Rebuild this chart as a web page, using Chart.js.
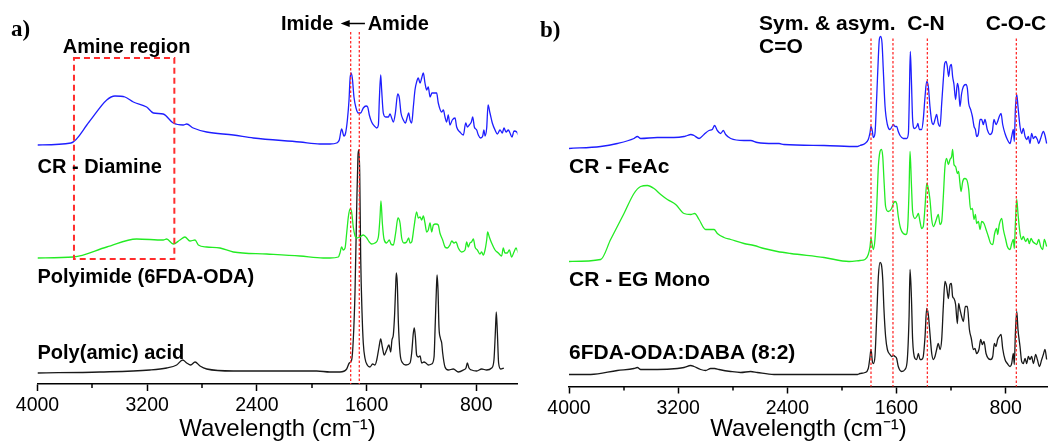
<!DOCTYPE html>
<html>
<head>
<meta charset="utf-8">
<script src="https://cdn.jsdelivr.net/npm/chart.js@4.4.1/dist/chart.umd.min.js"></script>
<style>
  body { margin: 0; background: #fff; }
  #wrap { display: flex; width: 1048px; height: 448px; }
  canvas { display: block; }
</style>
</head>
<body>
<div id="wrap">
  <canvas id="panelA" width="524" height="448"></canvas>
  <canvas id="panelB" width="524" height="448"></canvas>
</div>
<script>
// FTIR spectra, [wavenumber cm-1, absorbance (a.u., stacked offsets included)]
// panel a)
const crDiamine = [[4000,239],[3756,241],[3624,262],[3495,284],[3435,288],[3362,287],[3301,282],[3204,277],[3155,271],[3083,270],[3010,261],[2937,259],[2912,260],[2864,256],[2766,252],[2572,249],[2426,246],[2086,242],[1940,240],
  [1867,240],[1818,241],[1799,244],[1782,255],[1765,248],[1753,251],[1740,264],[1728,284],[1721,304],[1714,311],[1704,306],[1692,287],[1677,276],[1660,271],[1643,271],[1624,276],[1604,278],[1592,277],[1580,269],[1563,262],[1543,258],[1526,256],[1514,259],[1507,284],[1497,309],[1490,294],[1478,271],[1461,267],[1441,267],[1429,270],[1417,266],[1405,262],[1390,271],[1373,290],[1361,286],[1349,271],[1332,264],[1317,261],[1303,267],[1293,271],[1283,264],[1271,261],[1259,277],[1247,294],[1235,302],[1223,306],[1210,301],[1198,306],[1186,311],[1174,301],[1162,294],[1150,297],[1137,287],[1123,291],[1108,291],[1089,291],[1077,281],[1052,272],[1040,274],[1028,267],[1016,262],[1004,269],[992,259],[975,264],[955,266],[943,257],[919,252],[894,249],[877,261],[865,257],[851,259],[836,262],[826,267],[814,257],[797,254],[785,249],[768,246],[753,248],[744,254],[736,248],[724,256],[714,279],[700,271],[683,261],[663,254],[646,250],[627,254],[610,251],[598,256],[583,252],[566,254],[554,251],[539,247],[525,253],[505,252],[493,249]];

const polyimide = [[4000,126],[3739,127],[3495,137],[3277,145],[3083,144],[3058,145],[3010,140],[2961,144],[2925,147],[2888,143],[2851,144],[2827,139],[2766,137],[2669,136],[2572,132],[2328,130],[2086,128],[1916,126],
  [1867,126],[1806,127],[1794,131],[1782,137],[1770,134],[1757,136],[1745,151],[1733,167],[1721,175],[1709,172],[1697,157],[1684,148],[1672,146],[1648,147],[1624,149],[1599,146],[1580,142],[1563,140],[1539,141],[1514,147],[1502,167],[1495,183],[1485,161],[1473,145],[1454,141],[1434,144],[1422,140],[1405,139],[1388,151],[1371,166],[1356,161],[1344,146],[1327,141],[1308,142],[1293,146],[1283,141],[1271,142],[1254,157],[1235,172],[1223,166],[1210,167],[1198,164],[1186,168],[1174,161],[1162,152],[1150,154],[1137,161],[1125,152],[1113,159],[1094,160],[1077,159],[1065,151],[1045,144],[1028,137],[1011,136],[992,139],[979,143],[962,141],[948,142],[931,136],[907,132],[882,134],[870,142],[858,137],[846,141],[834,142],[821,145],[809,137],[792,134],[773,130],[761,132],[749,129],[736,134],[724,144],[717,152],[705,147],[688,141],[663,134],[639,131],[615,128],[603,136],[591,131],[574,131],[559,134],[542,127],[525,132],[510,136],[493,131]];

const polyAmicAcid = [[4000,11],[3544,12],[3180,14],[3058,16],[2985,19],[2941,24],[2912,21],[2883,19],[2851,22],[2815,18],[2766,15],[2572,13],[2328,13],[1964,13],
  [1867,12],[1794,12],[1745,15],[1726,21],[1709,24],[1697,44],[1684,94],[1672,177],[1663,227],[1658,234],[1650,211],[1643,127],[1633,71],[1624,41],[1612,26],[1595,19],[1575,17],[1556,20],[1539,19],[1526,24],[1509,37],[1497,45],[1485,37],[1471,29],[1454,34],[1437,39],[1424,32],[1415,44],[1405,49],[1395,71],[1388,97],[1383,111],[1376,101],[1368,61],[1356,31],[1337,21],[1313,19],[1283,21],[1271,31],[1259,51],[1252,56],[1244,47],[1235,29],[1223,27],[1210,28],[1198,21],[1181,22],[1167,21],[1150,19],[1125,20],[1108,27],[1099,61],[1091,94],[1086,109],[1079,94],[1072,57],[1062,46],[1052,41],[1045,31],[1028,17],[1004,14],[967,15],[931,12],[894,14],[875,16],[865,21],[853,16],[834,14],[797,13],[761,15],[724,14],[688,16],[671,24],[661,51],[654,72],[646,51],[637,21],[622,15],[598,16]];

// panel b)
const crFeAc = [[4000,238],[3768,240],[3646,243],[3524,248],[3499,250],[3475,248],[3353,249],[3231,249],[3157,250],[3133,251],[3108,252],[3084,251],[3047,248],[3011,252],[2974,256],[2950,257],[2933,261],[2913,256],[2889,253],[2869,256],[2852,252],[2815,248],[2718,246],[2669,246],[2620,244],[2498,243],[2461,243],[2425,242],[2131,241],[1887,240],
  [1868,241],[1831,243],[1807,247],[1794,254],[1787,260],[1777,255],[1770,249],[1758,253],[1745,290],[1733,330],[1726,347],[1716,350],[1706,343],[1697,317],[1684,280],[1667,262],[1648,257],[1633,260],[1623,262],[1611,260],[1599,260],[1587,255],[1574,251],[1550,248],[1526,248],[1513,253],[1506,290],[1499,335],[1491,307],[1482,267],[1469,258],[1452,260],[1443,263],[1433,257],[1416,257],[1404,267],[1391,290],[1379,305],[1367,300],[1355,280],[1342,265],[1330,262],[1318,267],[1306,272],[1294,263],[1281,260],[1269,283],[1257,307],[1247,323],[1237,325],[1228,320],[1218,310],[1208,320],[1198,322],[1189,310],[1179,302],[1167,287],[1154,303],[1145,298],[1135,280],[1123,293],[1110,300],[1091,302],[1081,298],[1071,283],[1057,277],[1044,270],[1032,260],[1022,257],[1013,250],[1000,253],[988,267],[976,267],[964,262],[952,267],[935,257],[915,252],[898,255],[886,267],[871,262],[859,265],[847,270],[834,273],[822,262],[805,253],[788,247],[768,243],[756,250],[744,257],[737,245],[729,277],[719,292],[710,280],[695,260],[683,253],[671,258],[658,250],[646,247],[634,250],[622,243],[610,253],[597,248],[583,250],[568,247],[558,243],[544,248],[524,255],[512,251],[500,243]];

const crEgMono = [[4000,125],[3768,127],[3695,147],[3597,173],[3524,193],[3475,200],[3426,201],[3377,198],[3328,192],[3279,187],[3218,182],[3157,173],[3108,172],[3079,173],[3047,167],[2999,157],[2937,157],[2913,153],[2864,149],[2815,147],[2718,143],[2644,141],[2571,138],[2473,135],[2376,133],[2131,129],[1948,125],
  [1868,126],[1831,127],[1807,132],[1794,140],[1787,148],[1777,141],[1770,137],[1758,147],[1745,180],[1733,220],[1721,235],[1711,237],[1701,230],[1692,207],[1680,180],[1660,175],[1636,178],[1623,183],[1611,185],[1599,183],[1587,170],[1570,158],[1550,153],[1531,152],[1518,160],[1508,197],[1501,235],[1491,203],[1482,175],[1465,168],[1452,170],[1440,173],[1428,165],[1416,158],[1404,160],[1391,180],[1379,203],[1367,198],[1355,187],[1342,167],[1330,160],[1318,163],[1306,168],[1294,172],[1281,162],[1269,165],[1257,190],[1245,220],[1233,228],[1220,222],[1208,227],[1196,230],[1189,237],[1179,222],[1167,220],[1154,213],[1145,215],[1135,203],[1127,195],[1115,205],[1101,208],[1086,207],[1071,197],[1057,177],[1044,178],[1032,167],[1022,172],[1013,163],[1000,165],[988,157],[976,165],[959,163],[944,157],[927,150],[910,143],[895,142],[881,153],[866,158],[859,152],[847,162],[829,168],[817,157],[800,147],[788,140],[768,137],[756,143],[744,147],[737,138],[729,163],[719,187],[710,173],[695,153],[683,147],[671,150],[654,145],[639,148],[627,143],[614,148],[602,145],[585,143],[573,142],[558,147],[544,140],[529,137],[517,147],[500,140]];

const daba82 = [[4000,12],[3841,12],[3646,16],[3524,18],[3499,19],[3475,17],[3353,17],[3206,18],[3157,19],[3108,21],[3084,20],[3035,17],[2999,16],[2962,18],[2933,18],[2901,17],[2815,15],[2742,14],[2669,15],[2620,14],[2498,12],[2131,12],[1887,12],
  [1868,13],[1831,14],[1807,18],[1794,30],[1787,37],[1777,25],[1770,23],[1758,30],[1745,70],[1733,110],[1721,124],[1711,122],[1701,107],[1692,77],[1680,50],[1667,37],[1648,32],[1636,30],[1623,31],[1611,30],[1599,28],[1587,20],[1562,15],[1538,17],[1521,27],[1508,70],[1501,117],[1491,90],[1482,47],[1465,28],[1452,27],[1440,33],[1428,27],[1416,27],[1404,30],[1391,50],[1379,78],[1367,72],[1355,53],[1342,33],[1330,27],[1318,30],[1306,37],[1294,43],[1281,37],[1269,47],[1257,80],[1245,105],[1233,100],[1220,88],[1208,102],[1198,103],[1189,90],[1179,88],[1167,82],[1154,63],[1145,83],[1135,77],[1123,70],[1110,65],[1096,80],[1081,80],[1066,57],[1052,48],[1037,37],[1025,38],[1013,33],[996,37],[983,47],[971,42],[959,45],[944,33],[927,28],[910,27],[895,30],[883,43],[871,40],[859,47],[847,50],[834,52],[822,38],[805,27],[788,23],[768,20],[756,23],[744,33],[737,22],[729,53],[719,75],[710,57],[695,40],[683,25],[671,23],[658,28],[646,23],[634,30],[622,27],[610,30],[597,23],[580,32],[568,27],[553,20],[536,27],[524,32],[512,37],[500,27]];

const majorTicks = [4000, 3200, 2400, 1600, 800];
const minorTicks = [3600, 2800, 2000, 1200];

// red guide lines (cm-1)
const guidesA = [1716, 1653];
const guidesB = [1787, 1626, 1374, 722];
const amineBox = { x1: 3734, x2: 3002, y1: 125, y2: 326 };

const BLUE = 'rgb(30,30,255)';
const GREEN = 'rgb(35,235,35)';
const BLACK = 'rgb(25,25,25)';
const RED = 'rgb(255,45,45)';
const SANS = '"Liberation Sans", Arial, sans-serif';

// guides, box, labels; positions in data units
const marks = {
  id: 'marks',
  afterDatasetsDraw(chart, args, o) {
    const { ctx, chartArea: ca, scales: { x, y } } = chart;
    ctx.save();

    // minor ticks
    ctx.strokeStyle = '#000';
    ctx.lineWidth = 1.5;
    minorTicks.forEach((v) => {
      const px = Math.round(x.getPixelForValue(v));
      ctx.beginPath();
      ctx.moveTo(px, ca.bottom);
      ctx.lineTo(px, ca.bottom + 4);
      ctx.stroke();
    });

    // dotted guides
    ctx.strokeStyle = RED;
    ctx.lineWidth = 1.3;
    ctx.setLineDash([2.5, 2]);
    o.guides.forEach((v) => {
      const px = x.getPixelForValue(v);
      ctx.beginPath();
      ctx.moveTo(px, y.getPixelForValue(o.guideTop));
      ctx.lineTo(px, ca.bottom);
      ctx.stroke();
    });

    if (o.box) {
      const b = o.box;
      ctx.lineWidth = 2;
      ctx.setLineDash([6, 4]);
      const l = x.getPixelForValue(b.x1), r = x.getPixelForValue(b.x2);
      const t = y.getPixelForValue(b.y2), btm = y.getPixelForValue(b.y1);
      ctx.strokeRect(l, t, r - l, btm - t);
    }
    ctx.setLineDash([]);

    // text labels
    ctx.fillStyle = '#000';
    ctx.textBaseline = 'alphabetic';
    ctx.font = `bold ${o.fontSize}px ${SANS}`;
    o.labels.forEach((l) => {
      ctx.textAlign = l.align || 'left';
      ctx.fillText(l.text, x.getPixelForValue(l.x), y.getPixelForValue(l.y));
    });

    if (o.arrow) {
      const a = o.arrow;
      const x0 = x.getPixelForValue(a.from), x1 = x.getPixelForValue(a.to);
      const py = y.getPixelForValue(a.y);
      ctx.strokeStyle = '#000';
      ctx.lineWidth = 1.5;
      ctx.beginPath();
      ctx.moveTo(x0, py);
      ctx.lineTo(x1 + 6, py);
      ctx.stroke();
      ctx.beginPath();
      ctx.moveTo(x1, py);
      ctx.lineTo(x1 + 9, py - 3.5);
      ctx.lineTo(x1 + 9, py + 3.5);
      ctx.closePath();
      ctx.fill();
    }

    // panel letter
    ctx.textAlign = 'left';
    ctx.font = 'bold 23px "Liberation Serif", "Times New Roman", serif';
    ctx.fillText(o.letter, o.letterX, o.letterY);
    ctx.restore();
  },
};

function spectrum(points, color) {
  return {
    data: points.map(([x, y]) => ({ x, y })),
    borderColor: color,
    borderWidth: 1.3,
    pointRadius: 0,
    cubicInterpolationMode: 'monotone',
    fill: false,
  };
}

function makePanel(id, series, cfg) {
  return new Chart(document.getElementById(id), {
    type: 'line',
    data: { datasets: series },
    options: {
      responsive: false,
      animation: false,
      devicePixelRatio: 1,
      layout: { padding: { left: cfg.left, right: cfg.right, top: 0, bottom: 0 } },
      plugins: { legend: { display: false }, tooltip: { enabled: false }, marks: cfg.marks },
      scales: {
        x: {
          type: 'linear',
          reverse: true,
          min: cfg.xmin,
          max: 4000,
          afterBuildTicks: (s) => { s.ticks = majorTicks.map((v) => ({ value: v })); },
          afterFit: (s) => { s.height = cfg.axisH; },
          border: { display: true, color: '#000', width: 1.5 },
          grid: { drawOnChartArea: false, drawTicks: true, tickLength: 7, tickColor: '#000', tickWidth: 1.5 },
          ticks: {
            color: '#000', padding: 3, maxRotation: 0, autoSkip: false,
            font: { family: SANS, size: 19.5 },
            callback: (v) => String(v),
          },
          title: {
            display: true, text: 'Wavelength (cm⁻¹)', color: '#000',
            font: { family: SANS, size: 24 }, padding: { top: 0, bottom: 4 },
          },
        },
        y: { display: false, min: 0, max: cfg.ymax },
      },
    },
    plugins: [marks],
  });
}

makePanel('panelA', [
  spectrum(crDiamine, BLUE),
  spectrum(polyimide, GREEN),
  spectrum(polyAmicAcid, BLACK),
], {
  left: 37.5, right: 6.6, xmin: 500, ymax: 384, axisH: 64,
  marks: {
    guides: guidesA, guideTop: 352, box: amineBox, fontSize: 20,
    letter: 'a)', letterX: 11, letterY: 36,
    arrow: { from: 1612, to: 1789, y: 360.5 },
    labels: [
      { text: 'Amine region', x: 3816, y: 331.5 },
      { text: 'CR - Diamine', x: 4000, y: 211.5 },
      { text: 'Polyimide (6FDA-ODA)', x: 4000, y: 100.7 },
      { text: 'Poly(amic) acid', x: 4000, y: 25 },
      { text: 'Imide', x: 1843, y: 354, align: 'right' },
      { text: 'Amide', x: 1592, y: 354 },
    ],
  },
});

makePanel('panelB', [
  spectrum(crFeAc, BLUE),
  spectrum(crEgMono, GREEN),
  spectrum(daba82, BLACK),
], {
  left: 45, right: 0, xmin: 490, ymax: 386.5, axisH: 61.5,
  marks: {
    guides: guidesB, guideTop: 348, box: null, fontSize: 21,
    letter: 'b)', letterX: 16, letterY: 37,
    arrow: null,
    labels: [
      { text: 'Sym. & asym.', x: 2608, y: 357 },
      { text: 'C=O', x: 2608, y: 333.5 },
      { text: 'C-N', x: 1521, y: 357 },
      { text: 'C-O-C', x: 947, y: 357 },
      { text: 'CR - FeAc', x: 4000, y: 213.5 },
      { text: 'CR - EG Mono', x: 4000, y: 101 },
      { text: '6FDA-ODA:DABA (8:2)', x: 4000, y: 28 },
    ],
  },
});
</script>
</body>
</html>
